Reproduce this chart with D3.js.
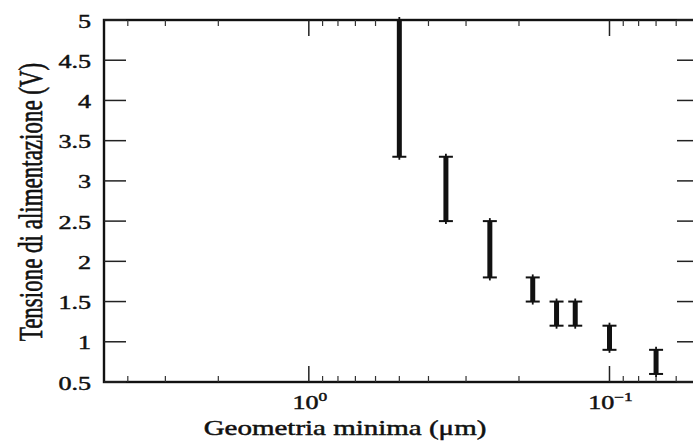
<!DOCTYPE html>
<html>
<head>
<meta charset="utf-8">
<script src="https://cdn.jsdelivr.net/npm/d3@7"></script>
<style>
  body { margin: 0; background: #fff; overflow: hidden; }
  svg { display: block; }
  text { font-family: "Liberation Serif", "DejaVu Serif", serif; fill: #111; stroke: #111; stroke-width: 0.45px; }
</style>
</head>
<body>
<div id="chart"></div>
<script>
// minimum feature size (um) and supply voltage range (V)
var geometry = [0.5, 0.35, 0.25, 0.18, 0.15, 0.13, 0.1, 0.07];
var vddLow = [3.3, 2.5, 1.8, 1.5, 1.2, 1.2, 0.9, 0.6];
var vddHigh = [5.0, 3.3, 2.5, 1.8, 1.5, 1.5, 1.2, 0.9];

var yTicks = [0.5, 1, 1.5, 2, 2.5, 3, 3.5, 4, 4.5, 5];
var yTickLabels = ["0.5", "1", "1.5", "2", "2.5", "3", "3.5", "4", "4.5", "5"];
var xMajor = [1, 0.1];
var xMajorExp = ["0", "\u22121"];
var xMinor = [4, 3, 2, 0.9, 0.8, 0.7, 0.6, 0.5, 0.4, 0.3, 0.2, 0.09, 0.08, 0.07, 0.06];

var W = 693, H = 441;
var margin = { left: 104, top: 20 };
var w = 596, h = 362;
var sx = 1.45; // the scan is stretched sideways

var svg = d3.select("#chart").append("svg")
    .attr("width", W)
    .attr("height", H);

var g = svg.append("g")
    .attr("transform", "translate(" + margin.left + "," + margin.top + ")");

var x = d3.scaleLog().domain([4.8, 0.05]).range([0, w]);
var y = d3.scaleLinear().domain([0.5, 5]).range([h, 0]);

// frame
g.append("rect")
    .attr("x", 0).attr("y", 0)
    .attr("width", w).attr("height", h)
    .attr("fill", "none")
    .attr("stroke", "#111")
    .attr("stroke-width", 2.4);

// y ticks, left and right, pointing inward
g.selectAll(".ytl").data(yTicks).enter().append("line")
    .attr("x1", 0).attr("x2", 22)
    .attr("y1", function (d) { return y(d); })
    .attr("y2", function (d) { return y(d); })
    .attr("stroke", "#222").attr("stroke-width", 1.5);
g.selectAll(".ytr").data(yTicks).enter().append("line")
    .attr("x1", w).attr("x2", w - 23)
    .attr("y1", function (d) { return y(d); })
    .attr("y2", function (d) { return y(d); })
    .attr("stroke", "#222").attr("stroke-width", 1.5);

// x ticks on bottom and top
[[h, -1], [0, 1]].forEach(function (side) {
    g.selectAll(null).data(xMajor).enter().append("line")
        .attr("x1", function (d) { return x(d); })
        .attr("x2", function (d) { return x(d); })
        .attr("y1", side[0])
        .attr("y2", side[0] + side[1] * 16)
        .attr("stroke", "#222").attr("stroke-width", 1.5);
    g.selectAll(null).data(xMinor).enter().append("line")
        .attr("x1", function (d) { return x(d); })
        .attr("x2", function (d) { return x(d); })
        .attr("y1", side[0])
        .attr("y2", side[0] + side[1] * 6)
        .attr("stroke", "#333").attr("stroke-width", 1.2);
});

// y tick labels
g.selectAll(".ylab").data(yTicks).enter().append("text")
    .attr("transform", function (d) {
        return "translate(-13," + (y(d) + 7.5) + ") scale(" + sx + ",1)";
    })
    .attr("text-anchor", "end")
    .style("font-size", "18px")
    .text(function (d, i) { return yTickLabels[i]; });

// x tick labels (10^n)
var xl = g.selectAll(".xlab").data(xMajor).enter().append("text")
    .attr("transform", function (d) {
        return "translate(" + (x(d) + 1) + "," + (h + 27) + ") scale(" + sx + ",1)";
    })
    .attr("text-anchor", "middle")
    .style("font-size", "18px");
xl.append("tspan").text("10");
xl.append("tspan")
    .attr("dy", -8)
    .style("font-size", "12px")
    .text(function (d, i) { return xMajorExp[i]; });

// error bars
var bars = g.selectAll(".bar").data(geometry).enter().append("g")
    .attr("class", "bar");
bars.append("line")
    .attr("x1", function (d) { return x(d); })
    .attr("x2", function (d) { return x(d); })
    .attr("y1", function (d, i) { return y(vddLow[i]) + 3; })
    .attr("y2", function (d, i) { return y(vddHigh[i]) - 3; })
    .attr("stroke", "#111").attr("stroke-width", 1.8);
bars.append("line")
    .attr("x1", function (d) { return x(d); })
    .attr("x2", function (d) { return x(d); })
    .attr("y1", function (d, i) { return y(vddLow[i]); })
    .attr("y2", function (d, i) { return y(vddHigh[i]); })
    .attr("stroke", "#111").attr("stroke-width", 5);
bars.append("line")
    .attr("x1", function (d) { return x(d) - 7; })
    .attr("x2", function (d) { return x(d) + 7; })
    .attr("y1", function (d, i) { return y(vddLow[i]); })
    .attr("y2", function (d, i) { return y(vddLow[i]); })
    .attr("stroke", "#111").attr("stroke-width", 2);
bars.append("line")
    .attr("x1", function (d) { return x(d) - 7; })
    .attr("x2", function (d) { return x(d) + 7; })
    .attr("y1", function (d, i) { return y(vddHigh[i]); })
    .attr("y2", function (d, i) { return y(vddHigh[i]); })
    .attr("stroke", "#111").attr("stroke-width", 2);

// axis titles
svg.append("text")
    .attr("transform", "translate(345,435) scale(" + sx + ",1)")
    .attr("text-anchor", "middle")
    .style("font-size", "20px")
    .text("Geometria minima (\u03bcm)");

svg.append("text")
    .attr("transform", "translate(42,202) scale(" + sx + ",1) rotate(-90)")
    .attr("text-anchor", "middle")
    .style("font-size", "23px")
    .text("Tensione di alimentazione (V)");
</script>
</body>
</html>
